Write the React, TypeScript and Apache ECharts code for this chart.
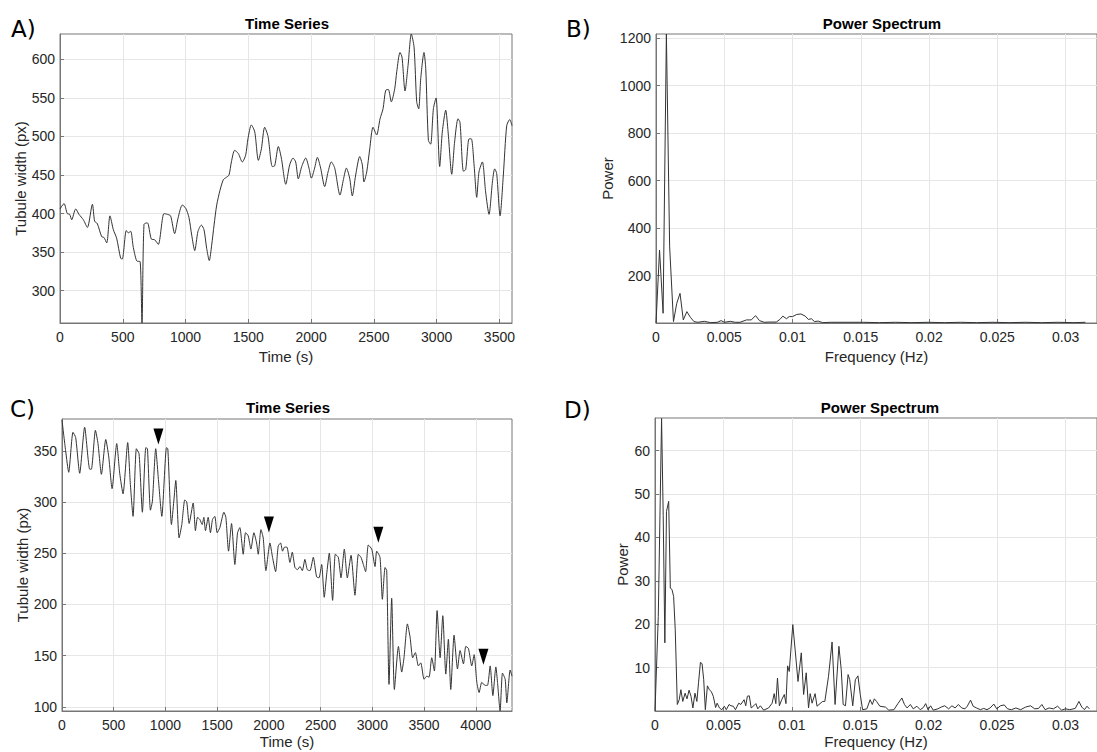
import React, { useEffect, useRef } from "react";
import * as echarts from "echarts";

// ---------- Panel A: time series ----------
const timeA = [
  0, 32, 58, 77, 93, 125, 151, 186, 218, 258,
  276, 297, 332, 350, 372, 398, 425, 451, 483, 496,
  528, 544, 563, 584, 616, 637, 653, 669, 696, 727,
  754, 783, 828, 855, 881, 913, 940, 974, 1001, 1027,
  1049, 1073, 1099, 1126, 1147, 1168, 1189, 1208, 1227, 1248,
  1274, 1301, 1325, 1346, 1365, 1391, 1420, 1452, 1479, 1497,
  1524, 1551, 1580, 1604, 1630, 1657, 1691, 1710, 1739, 1763,
  1798, 1829, 1856, 1877, 1898, 1925, 1957, 1983, 2002, 2028,
  2050, 2076, 2108, 2135, 2161, 2188, 2230, 2257, 2281, 2307,
  2328, 2355, 2387, 2408, 2421, 2443, 2467, 2493, 2522, 2549,
  2573, 2594, 2615, 2639, 2666, 2682, 2708, 2724, 2748, 2772,
  2798, 2820, 2841, 2857, 2873, 2899, 2913, 2934, 2952, 2974,
  2995, 3024, 3045, 3072, 3091, 3120, 3143, 3170, 3186, 3213,
  3231, 3258, 3276, 3298, 3319, 3337, 3364, 3390, 3417, 3444,
  3462, 3478, 3505, 3531, 3558, 3582, 3600,
];
const widthA = [
  406, 413, 400, 399, 392, 406, 399, 392, 382, 412,
  390, 387, 370, 369, 362, 397, 379, 368, 342, 341,
  378, 375, 377, 356, 338, 338, 258, 386, 388, 367,
  366, 360, 400, 399, 397, 374, 394, 411, 407, 395,
  372, 352, 377, 385, 379, 355, 339, 359, 385, 411,
  430, 444, 447, 450, 467, 482, 478, 467, 476, 497,
  515, 506, 469, 484, 512, 500, 461, 462, 487, 472,
  438, 463, 472, 467, 445, 461, 472, 459, 446, 459,
  473, 459, 435, 454, 467, 459, 424, 444, 459, 446,
  423, 450, 474, 463, 441, 454, 484, 512, 502, 523,
  536, 560, 561, 545, 562, 584, 609, 603, 559, 592,
  633, 616, 545, 536, 575, 609, 588, 495, 490, 536,
  550, 461, 506, 534, 506, 451, 493, 523, 518, 455,
  457, 497, 497, 463, 421, 454, 467, 428, 399, 441,
  458, 452, 397, 450, 514, 522, 514,
];

// ---------- Panel B: power spectrum ----------
const freqB = [
  0, 0.00026, 0.00052, 0.00076, 0.001, 0.00128, 0.00152, 0.00176, 0.002, 0.00226,
  0.00252, 0.00278, 0.00306, 0.00354, 0.00401, 0.00449, 0.00477, 0.00501, 0.00544, 0.0058,
  0.00615, 0.00663, 0.00698, 0.00729, 0.00758, 0.00793, 0.00829, 0.00881, 0.00907, 0.00929,
  0.00955, 0.00976, 0.01, 0.01031, 0.01062, 0.01093, 0.01116, 0.01138, 0.01161, 0.01188,
  0.01221, 0.0128, 0.01399, 0.01518, 0.01636, 0.01755, 0.01874, 0.01993, 0.02111, 0.0223,
  0.02349, 0.02468, 0.02586, 0.02705, 0.02824, 0.02943, 0.03061, 0.03145,
];
const powerB = [
  0, 307, 41, 1218, 321, 6, 83, 125, 13, 48,
  24, 6, 3, 7, 1.4, 3, 10, 3, 7, 3,
  3, 13, 13, 31, 10, 3, 4, 4, 15, 29,
  18, 27, 27, 36, 38, 29, 15, 18, 6, 8,
  1.4, 3, 3, 3, 1.4, 3, 1.4, 3, 1.4, 3,
  1.4, 3, 1.4, 3, 1.4, 3, 1.4, 3,
];

// ---------- Panel C: time series ----------
const timeC = [
  0, 35, 65, 106, 132, 171, 219, 268, 284, 323,
  348, 381, 423, 452, 484, 529, 558, 590, 635, 661,
  687, 719, 745, 777, 810, 826, 855, 874, 906, 932,
  965, 1010, 1023, 1058, 1081, 1100, 1132, 1158, 1187, 1206,
  1229, 1268, 1290, 1310, 1332, 1355, 1371, 1387, 1413, 1435,
  1455, 1477, 1500, 1526, 1565, 1584, 1610, 1639, 1671, 1697,
  1719, 1752, 1774, 1800, 1826, 1855, 1881, 1897, 1923, 1945,
  1971, 2010, 2035, 2065, 2090, 2113, 2132, 2152, 2174, 2203,
  2226, 2252, 2277, 2300, 2323, 2348, 2371, 2397, 2429, 2461,
  2484, 2510, 2535, 2558, 2584, 2616, 2642, 2671, 2697, 2729,
  2758, 2794, 2832, 2865, 2890, 2913, 2935, 2961, 2994, 3026,
  3042, 3074, 3097, 3123, 3139, 3161, 3187, 3213, 3252, 3284,
  3306, 3339, 3365, 3390, 3416, 3445, 3468, 3500, 3526, 3548,
  3574, 3600, 3626, 3655, 3681, 3710, 3735, 3758, 3790, 3823,
  3848, 3881, 3903, 3929, 3961, 3984, 4010, 4032, 4058, 4090,
  4113, 4139, 4165, 4194, 4210, 4235, 4258, 4284, 4300, 4332,
  4350,
];
const widthC = [
  380, 350, 329, 368, 363, 328, 373, 332, 332, 370,
  357, 327, 361, 344, 313, 357, 328, 308, 358, 317,
  286, 352, 347, 290, 353, 352, 292, 301, 352, 322,
  286, 353, 352, 278, 301, 321, 265, 278, 302, 300,
  279, 299, 272, 285, 283, 278, 285, 272, 285, 270,
  283, 286, 270, 275, 290, 285, 252, 279, 239, 270,
  275, 249, 270, 267, 254, 270, 260, 249, 273, 265,
  233, 260, 246, 232, 257, 260, 252, 256, 256, 241,
  251, 236, 234, 237, 233, 244, 234, 233, 246, 227,
  226, 239, 207, 229, 250, 204, 249, 246, 226, 254,
  226, 248, 209, 249, 246, 239, 232, 258, 254, 237,
  252, 246, 205, 236, 233, 122, 206, 117, 159, 134,
  148, 181, 168, 148, 153, 140, 143, 127, 130, 129,
  148, 135, 194, 148, 189, 132, 166, 117, 170, 137,
  155, 142, 159, 157, 140, 151, 124, 114, 124, 121,
  121, 140, 111, 139, 124, 96, 133, 127, 104, 136,
  130,
];
const markerTimeC = [932, 2000, 3058, 4074];
const markerWidthC = [364, 278, 268, 149];

// ---------- Panel D: power spectrum ----------
const freqD = [
  0, 0.00024, 0.00048, 0.0006, 0.00072, 0.00084, 0.001, 0.00112, 0.00124, 0.00136,
  0.00148, 0.00163, 0.00177, 0.00189, 0.00203, 0.0022, 0.00234, 0.00249, 0.00263, 0.00277,
  0.00292, 0.00306, 0.00318, 0.00332, 0.00344, 0.00356, 0.00368, 0.00383, 0.00397, 0.00411,
  0.00426, 0.00443, 0.00454, 0.00471, 0.00488, 0.00507, 0.00521, 0.00541, 0.00555, 0.00572,
  0.00588, 0.00612, 0.00627, 0.00651, 0.00663, 0.00675, 0.00689, 0.00703, 0.00722, 0.00737,
  0.00751, 0.0077, 0.00794, 0.0083, 0.00856, 0.00871, 0.00883, 0.00895, 0.00909, 0.00926,
  0.00945, 0.00957, 0.00969, 0.00981, 0.01007, 0.01024, 0.01045, 0.01069, 0.01086, 0.01105,
  0.01122, 0.01134, 0.01148, 0.0117, 0.01184, 0.01206, 0.01225, 0.01241, 0.01268, 0.01294,
  0.01316, 0.01344, 0.01361, 0.01375, 0.01392, 0.01411, 0.01423, 0.01445, 0.01464, 0.01483,
  0.015, 0.01517, 0.01548, 0.01572, 0.01588, 0.01603, 0.01619, 0.01643, 0.01684, 0.01708,
  0.01746, 0.01775, 0.01804, 0.01823, 0.01842, 0.01866, 0.01887, 0.01914, 0.01938, 0.01961,
  0.01978, 0.01995, 0.02014, 0.02033, 0.02067, 0.02091, 0.02117, 0.02146, 0.0217, 0.02193,
  0.02217, 0.02241, 0.02265, 0.02282, 0.02306, 0.02325, 0.02349, 0.02378, 0.02402, 0.02426,
  0.02449, 0.02476, 0.02497, 0.02524, 0.02552, 0.02576, 0.02605, 0.02637, 0.02672, 0.02708,
  0.02744, 0.02775, 0.02803, 0.02827, 0.02851, 0.0288, 0.02911, 0.02942, 0.02971, 0.03,
  0.03031, 0.03071, 0.03098, 0.03119, 0.03138, 0.03157, 0.03174,
];
const powerD = [
  0, 21.8, 67.4, 45, 15.7, 46, 48.3, 28.3, 28, 26.4,
  18.7, 1.5, 2.6, 4.9, 2.2, 4.1, 2.8, 4.8, 3.4, 0.7,
  4.1, 2.2, 6.5, 11.2, 10.9, 7.2, 0.3, 5.8, 4.9, 4.5,
  3.4, 0.8, 1.8, 0.7, 0.3, 1.1, 0.3, 1.5, 1.2, 1.1,
  0.3, 1.8, 1.5, 2.6, 1.2, 3.4, 3.5, 0.7, 1.2, 1.7,
  0.5, 1.2, 0.2, 0.7, 1.8, 4.0, 1.7, 7.6, 1.2, 2.6,
  3.8, 1.7, 10.4, 9.1, 19.9, 14.1, 6.8, 13.4, 3.8, 8.8,
  0.7, 4.0, 1.8, 4.0, 1.1, 1.7, 2.2, 2.2, 8.0, 15.9,
  1.5, 14.9, 9.5, 1.5, 1.2, 8.4, 7.2, 1.2, 7.2, 8.1,
  3.8, 0.3, 0.5, 2.6, 1.5, 2.8, 2.2, 1.1, 0.9, 0.2,
  0.3, 1.7, 3.0, 1.5, 0.7, 1.5, 0.5, 1.1, 0.3, 0.8,
  1.7, 0.3, 1.2, 0.2, 0.5, 0.9, 1.2, 0.5, 1.2, 0.7,
  1.5, 0.7, 0.5, 1.1, 2.5, 1.1, 0.7, 0.3, 0.6, 0.3,
  0.7, 1.6, 0.5, 1.2, 1.4, 0.5, 0.3, 0.7, 0.3, 0.9,
  1.2, 0.5, 0.6, 1.5, 0.3, 0.7, 0.5, 1.1, 0.2, 0.5,
  0.3, 0.6, 2.2, 0.9, 0.3, 1.1, 0.5,
];

// ---------- tick labels ----------
const ticksTimeA = [0, 500, 1000, 1500, 2000, 2500, 3000, 3500];
const ticksWidthA = [300, 350, 400, 450, 500, 550, 600];
const ticksTimeC = [0, 500, 1000, 1500, 2000, 2500, 3000, 3500, 4000];
const ticksWidthC = [100, 150, 200, 250, 300, 350];
const ticksFreq = [0, 0.005, 0.01, 0.015, 0.02, 0.025, 0.03];
const ticksPowerB = [200, 400, 600, 800, 1000, 1200];
const ticksPowerD = [10, 20, 30, 40, 50, 60];

const zip = (xs: number[], ys: number[]) => xs.map((x, i) => [x, ys[i]]);

const FONT = "'Liberation Sans', Arial, Helvetica, sans-serif";
const AXIS_COLOR = "#767676";
const LABEL_COLOR = "#262626";
const GRID_COLOR = "#e6e6e6";
const LINE_COLOR = "#333333";

function xAxisOpt(gridIndex: number, min: number, max: number, ticks: number[], name: string, nameGap: number) {
  return {
    type: "value",
    gridIndex,
    min,
    max,
    name,
    nameLocation: "middle",
    nameGap,
    nameTextStyle: { color: LABEL_COLOR, fontSize: 15, fontFamily: FONT },
    axisLine: { show: true, onZero: false, lineStyle: { color: AXIS_COLOR, width: 1 } },
    axisTick: { show: true, inside: true, length: 4, customValues: ticks, lineStyle: { color: AXIS_COLOR } },
    axisLabel: {
      show: true,
      margin: 7,
      customValues: ticks,
      color: LABEL_COLOR,
      fontSize: 14,
      fontFamily: FONT,
      formatter: (v: number) => String(v),
    },
    splitLine: { show: true, lineStyle: { color: GRID_COLOR, width: 1 } },
  };
}

function yAxisOpt(gridIndex: number, min: number, max: number, ticks: number[], name: string, nameGap: number) {
  return {
    type: "value",
    gridIndex,
    min,
    max,
    name,
    nameLocation: "middle",
    nameGap,
    nameTextStyle: { color: LABEL_COLOR, fontSize: 15, fontFamily: FONT },
    axisLine: { show: true, onZero: false, lineStyle: { color: AXIS_COLOR, width: 1 } },
    axisTick: { show: true, inside: true, length: 4, customValues: ticks, lineStyle: { color: AXIS_COLOR } },
    axisLabel: {
      show: true,
      margin: 5,
      customValues: ticks,
      color: LABEL_COLOR,
      fontSize: 14,
      fontFamily: FONT,
      formatter: (v: number) => String(v),
    },
    splitLine: { show: true, lineStyle: { color: GRID_COLOR, width: 1 } },
  };
}

function textEl(text: string, x: number, y: number, font: string, align: string) {
  return {
    type: "text",
    x,
    y,
    silent: true,
    style: {
      text,
      font,
      fill: "#000",
      align,
      textAlign: align,
      verticalAlign: "middle",
      textVerticalAlign: "middle",
    },
  };
}

export default function App() {
  const ref = useRef<HTMLDivElement>(null);

  useEffect(() => {
    if (!ref.current) return;
    const chart = echarts.init(ref.current, undefined, { renderer: "svg" });
    const gridBase = { show: true, borderColor: AXIS_COLOR, borderWidth: 1, backgroundColor: "#fff", containLabel: false };
    const lineBase = {
      type: "line",
      showSymbol: false,
      symbol: "none",
      silent: true,
      clip: true,
      lineStyle: { color: LINE_COLOR, width: 1 },
    };
    const titleFont = `bold 15px ${FONT}`;
    const letterFont = `23px 'DejaVu Sans', Verdana, sans-serif`;

    const option = {
      animation: false,
      backgroundColor: "#fff",
      grid: [
        { ...gridBase, left: 60, top: 34, width: 452, height: 289 },
        { ...gridBase, left: 656, top: 34, width: 453, height: 289 },
        { ...gridBase, left: 62, top: 419, width: 450, height: 292 },
        { ...gridBase, left: 655, top: 418, width: 450, height: 293 },
      ],
      xAxis: [
        xAxisOpt(0, 0, 3600, ticksTimeA, "Time (s)", 26),
        xAxisOpt(1, 0, 0.0323, ticksFreq, "Frequency (Hz)", 26),
        xAxisOpt(2, 0, 4350, ticksTimeC, "Time (s)", 23),
        xAxisOpt(3, 0, 0.0323, ticksFreq, "Frequency (Hz)", 23),
      ],
      yAxis: [
        yAxisOpt(0, 258, 633, ticksWidthA, "Tubule width (px)", 30),
        yAxisOpt(1, 0, 1218, ticksPowerB, "Power", 41),
        yAxisOpt(2, 96, 381, ticksWidthC, "Tubule width (px)", 32),
        yAxisOpt(3, 0, 67.5, ticksPowerD, "Power", 25),
      ],
      series: [
        { ...lineBase, xAxisIndex: 0, yAxisIndex: 0, smooth: 0.25, data: zip(timeA, widthA) },
        { ...lineBase, xAxisIndex: 1, yAxisIndex: 1, data: zip(freqB, powerB) },
        { ...lineBase, xAxisIndex: 2, yAxisIndex: 2, smooth: 0.2, data: zip(timeC, widthC) },
        { ...lineBase, xAxisIndex: 3, yAxisIndex: 3, data: zip(freqD, powerD) },
        {
          type: "scatter",
          xAxisIndex: 2,
          yAxisIndex: 2,
          silent: true,
          z: 5,
          symbol: "path://M0,0L10,0L5,17Z",
          symbolSize: [10, 16],
          symbolKeepAspect: false,
          itemStyle: { color: "#000", opacity: 1 },
          data: zip(markerTimeC, markerWidthC),
        },
      ],
      graphic: [
        textEl("Time Series", 287, 23, titleFont, "center"),
        textEl("Power Spectrum", 882, 23, titleFont, "center"),
        textEl("Time Series", 288, 407, titleFont, "center"),
        textEl("Power Spectrum", 880, 407, titleFont, "center"),
        textEl("A)", 11, 29, letterFont, "left"),
        textEl("B)", 566, 29, letterFont, "left"),
        textEl("C)", 10, 409, letterFont, "left"),
        textEl("D)", 564, 410, letterFont, "left"),
      ],
    };

    chart.setOption(option as any);
    return () => {
      chart.dispose();
    };
  }, []);

  return (
    <div
      ref={ref}
      style={{ position: "absolute", left: 0, top: 0, width: 1097, height: 752, background: "#fff" }}
    />
  );
}
